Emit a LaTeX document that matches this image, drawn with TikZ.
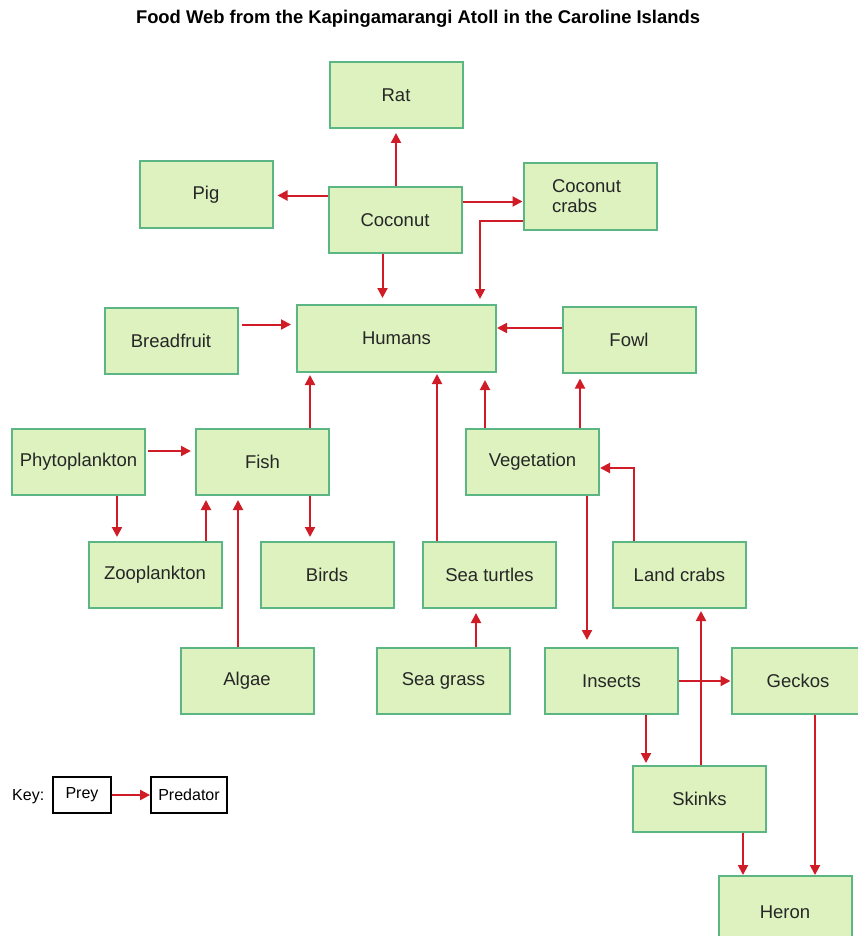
\documentclass[tikz,border=0pt]{standalone}
\usepackage{fontspec}
\setmainfont{Liberation Sans}
\usetikzlibrary{arrows.meta}
\definecolor{boxfill}{RGB}{221,242,191}
\definecolor{boxline}{RGB}{92,182,132}
\definecolor{arrred}{RGB}{208,28,38}
\tikzset{
  sp/.style={draw=boxline, fill=boxfill, line width=2pt, minimum width=133pt, minimum height=66pt, inner sep=0pt, font=\fontsize{18.5}{20}\selectfont, text=black!85},
  keybox/.style={draw=black, fill=white, line width=1.8pt, minimum height=36pt, inner sep=0pt, font=\fontsize{16}{18}\selectfont},
  arr/.style={draw=arrred, line width=2pt, -{Triangle[length=10pt,width=10pt]}},
}
\begin{document}
\begin{tikzpicture}[x=1pt,y=-1pt]
\useasboundingbox (0,0) rectangle (857,936);
\fill[white] (0,0) rectangle (857,936);
\node[font=\bfseries\fontsize{18.4}{20}\selectfont] (title) at (418,19) {Food Web from the Kapingamarangi Atoll in the Caroline Islands};
% species boxes
\node[sp] (rat) at (396,95) {Rat};
\node[sp] (pig) at (206,194.5) {Pig};
\node[sp] (coconut) at (395,220) {Coconut};
\node[sp, align=left, text width=76pt] (ccrabs) at (590,196.5) {Coconut\\crabs};
\node[sp] (breadfruit) at (171,340.5) {Breadfruit};
\node[sp, minimum width=199pt, minimum height=67pt] (humans) at (396.5,338.5) {Humans};
\node[sp] (fowl) at (629,339.5) {Fowl};
\node[sp] (phyto) at (78.5,462) {Phytoplankton};
\node[sp] (fish) at (262.5,462) {Fish};
\node[sp] (veg) at (532.5,462) {Vegetation};
\node[sp] (zoo) at (155,575) {Zooplankton};
\node[sp] (birds) at (327,575) {Birds};
\node[sp] (turtles) at (489.5,575) {Sea turtles};
\node[sp] (landcrabs) at (679.5,575) {Land crabs};
\node[sp] (algae) at (247,681) {Algae};
\node[sp] (seagrass) at (443.5,681) {Sea grass};
\node[sp] (insects) at (611.5,681) {Insects};
\node[sp] (geckos) at (798,681) {Geckos};
\node[sp] (skinks) at (699.5,799) {Skinks};
\node[sp, minimum height=72pt] (heron) at (785,912) {Heron};
% key
\node[font=\fontsize{16}{18}\selectfont, anchor=west, inner sep=0pt] (keylabel) at (12,797) {Key:};
\node[keybox, minimum width=58pt] (prey) at (82,795) {Prey};
\node[keybox, minimum width=76pt] (predator) at (189,795) {Predator};
\draw[arr] (prey.east) -- (predator.west);
% connectors
\draw[arr, shorten >=4pt] (coconut.north -| rat.south) -- (rat.south);
\draw[arr, shorten >=4pt] ([yshift=24.5pt]coconut.west) -- ([yshift=24.5pt]coconut.west -| pig.east);
\draw[arr] ([yshift=18.5pt]coconut.east) -- ([yshift=18.5pt]coconut.east -| ccrabs.west);
\draw[arr, shorten >=5pt] ([yshift=-24.5pt]ccrabs.west) -| ([xshift=83.5pt]humans.north);
\draw[arr, shorten >=6pt] ([xshift=-12.5pt]coconut.south) -- ([xshift=-12.5pt]coconut.south |- humans.north);
\draw[arr, shorten <=3pt, shorten >=5pt] ([yshift=16pt]breadfruit.east) -- ([yshift=16pt]breadfruit.east -| humans.west);
\draw[arr] ([yshift=11.5pt]fowl.west) -- ([yshift=11.5pt]fowl.west -| humans.east);
\draw[arr, shorten >=2pt] ([xshift=47.5pt]fish.north) -- ([xshift=47.5pt]fish.north |- humans.south);
\draw[arr, shorten <=2pt, shorten >=4pt] ([yshift=11pt]phyto.east) -- ([yshift=11pt]phyto.east -| fish.west);
\draw[arr, shorten >=4pt] ([xshift=38.5pt]phyto.south) -- ([xshift=38.5pt]phyto.south |- zoo.north);
\draw[arr, shorten >=4pt] ([xshift=51pt]zoo.north) -- ([xshift=51pt]zoo.north |- fish.south);
\draw[arr, shorten >=4pt] ([xshift=-9pt]algae.north) -- ([xshift=-9pt]algae.north |- fish.south);
\draw[arr, shorten >=4pt] ([xshift=47.5pt]fish.south) -- ([xshift=47.5pt]fish.south |- birds.north);
\draw[arr, shorten >=1pt] ([xshift=-52.5pt]turtles.north) -- ([xshift=-52.5pt]turtles.north |- humans.south);
\draw[arr, shorten >=7pt] ([xshift=-47.5pt]veg.north) -- ([xshift=-47.5pt]veg.north |- humans.south);
\draw[arr, shorten >=5pt] ([xshift=47.5pt]veg.north) -- ([xshift=47.5pt]veg.north |- fowl.south);
\draw[arr] ([xshift=-45.5pt]landcrabs.north) |- ([yshift=-6pt]veg.east);
\draw[arr, shorten >=7pt] ([xshift=54.5pt]veg.south) -- ([xshift=54.5pt]veg.south |- insects.north);
\draw[arr, shorten >=4pt] ([xshift=32.5pt]seagrass.north) -- ([xshift=32.5pt]seagrass.north |- turtles.south);
\draw[arr] (insects.east) -- (insects.east -| geckos.west);
\draw[arr, shorten >=2pt] ([xshift=34.5pt]insects.south) -- ([xshift=34.5pt]insects.south |- skinks.north);
\draw[arr, shorten >=2pt] ([xshift=1.5pt]skinks.north) -- ([xshift=1.5pt]skinks.north |- landcrabs.south);
\draw[arr] ([xshift=43.5pt]skinks.south) -- ([xshift=43.5pt]skinks.south |- heron.north);
\draw[arr] ([xshift=17pt]geckos.south) -- ([xshift=17pt]geckos.south |- heron.north);
\end{tikzpicture}
\end{document}
